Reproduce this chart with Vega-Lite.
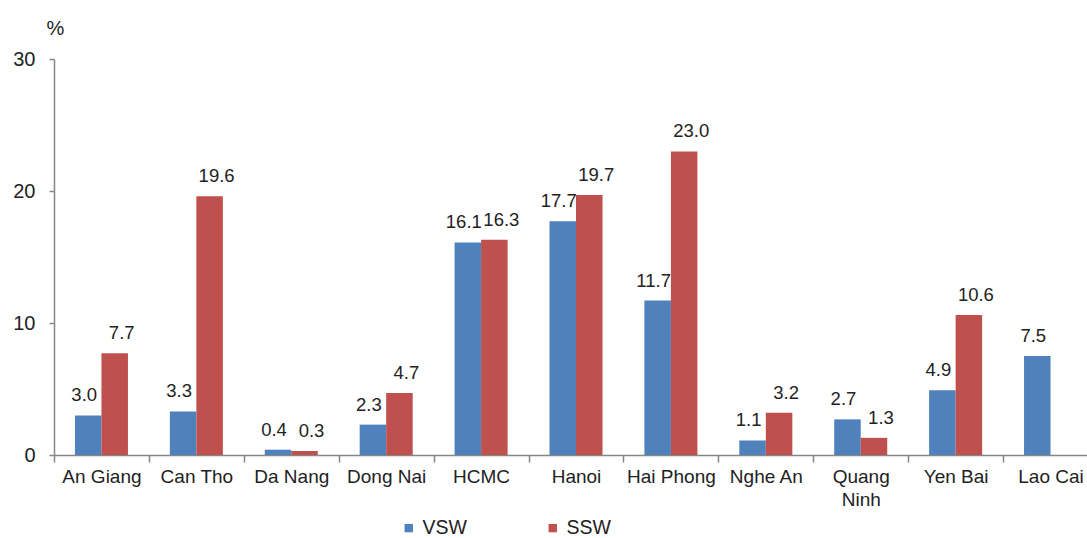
{
  "$schema": "https://vega.github.io/schema/vega-lite/v6.json",
  "autosize": {"type": "none"},
  "padding": {"left": 54, "top": 59, "right": 0, "bottom": 83},
  "width": 1033,
  "height": 396,
  "background": "white",
  "config": {
    "view": {"stroke": null},
    "font": "Liberation Sans",
    "text": {"font": "Liberation Sans"}
  },
  "data": {
    "values": [
      {"province": "An Giang", "series": "VSW", "value": 3.0},
      {"province": "An Giang", "series": "SSW", "value": 7.7},
      {"province": "Can Tho", "series": "VSW", "value": 3.3},
      {"province": "Can Tho", "series": "SSW", "value": 19.6},
      {"province": "Da Nang", "series": "VSW", "value": 0.4},
      {"province": "Da Nang", "series": "SSW", "value": 0.3},
      {"province": "Dong Nai", "series": "VSW", "value": 2.3},
      {"province": "Dong Nai", "series": "SSW", "value": 4.7},
      {"province": "HCMC", "series": "VSW", "value": 16.1},
      {"province": "HCMC", "series": "SSW", "value": 16.3},
      {"province": "Hanoi", "series": "VSW", "value": 17.7},
      {"province": "Hanoi", "series": "SSW", "value": 19.7},
      {"province": "Hai Phong", "series": "VSW", "value": 11.7},
      {"province": "Hai Phong", "series": "SSW", "value": 23.0},
      {"province": "Nghe An", "series": "VSW", "value": 1.1},
      {"province": "Nghe An", "series": "SSW", "value": 3.2},
      {"province": "Quang Ninh", "series": "VSW", "value": 2.7},
      {"province": "Quang Ninh", "series": "SSW", "value": 1.3},
      {"province": "Yen Bai", "series": "VSW", "value": 4.9},
      {"province": "Yen Bai", "series": "SSW", "value": 10.6},
      {"province": "Lao Cai", "series": "VSW", "value": 7.5}
    ]
  },
  "encoding": {
    "x": {
      "field": "province",
      "type": "nominal",
      "sort": null,
      "scale": {"range": [0, 1044], "paddingInner": 0, "paddingOuter": 0},
      "axis": {
        "title": null,
        "labelAngle": 0,
        "labelFontSize": 19,
        "labelColor": "#222222",
        "labelPadding": 5,
        "labelOverlap": false,
        "labelLimit": 200,
        "labelLineHeight": 23,
        "labelExpr": "datum.value == 'Quang Ninh' ? ['Quang', 'Ninh'] : datum.label",
        "tickBand": "extent",
        "tickSize": 7,
        "tickColor": "#868686",
        "domainColor": "#868686",
        "domainWidth": 1.5,
        "tickWidth": 1.5
      }
    },
    "xOffset": {
      "field": "series",
      "type": "nominal",
      "sort": ["VSW", "SSW"],
      "scale": {"paddingInner": 0, "paddingOuter": 0.79}
    },
    "y": {
      "field": "value",
      "type": "quantitative",
      "scale": {"domain": [0, 30], "nice": false},
      "axis": {
        "values": [0, 10, 20, 30],
        "grid": false,
        "title": "%",
        "titleAngle": 0,
        "titleX": 1,
        "titleY": -31,
        "titleAlign": "center",
        "titleBaseline": "middle",
        "titleFontSize": 20,
        "titleFontWeight": "normal",
        "titleColor": "#222222",
        "labelFontSize": 20,
        "labelColor": "#222222",
        "labelPadding": 14,
        "tickSize": 5,
        "tickColor": "#868686",
        "domainColor": "#868686",
        "domainWidth": 1.5,
        "tickWidth": 1.5
      }
    }
  },
  "layer": [
    {
      "mark": {"type": "bar"},
      "encoding": {
        "color": {
          "field": "series",
          "type": "nominal",
          "sort": ["VSW", "SSW"],
          "scale": {"domain": ["VSW", "SSW"], "range": ["#4F81BD", "#C0504D"]},
          "legend": {
            "title": null,
            "orient": "none",
            "direction": "horizontal",
            "legendX": 345,
            "legendY": 459,
            "symbolType": "square",
            "symbolSize": 70,
            "symbolStrokeWidth": 0,
            "labelFontSize": 19.5,
            "labelColor": "#222222",
            "labelOffset": 4,
            "columnPadding": 76
          }
        }
      }
    },
    {
      "transform": [{"filter": "datum.series == 'VSW'"}],
      "mark": {"type": "text", "baseline": "alphabetic", "dy": -14, "dx": -4, "fontSize": 18.5, "color": "#222222"},
      "encoding": {"text": {"field": "value", "type": "quantitative", "format": ".1f"}}
    },
    {
      "transform": [{"filter": "datum.series == 'SSW'"}],
      "mark": {"type": "text", "baseline": "alphabetic", "dy": -14, "dx": 7, "fontSize": 18.5, "color": "#222222"},
      "encoding": {"text": {"field": "value", "type": "quantitative", "format": ".1f"}}
    }
  ]
}
